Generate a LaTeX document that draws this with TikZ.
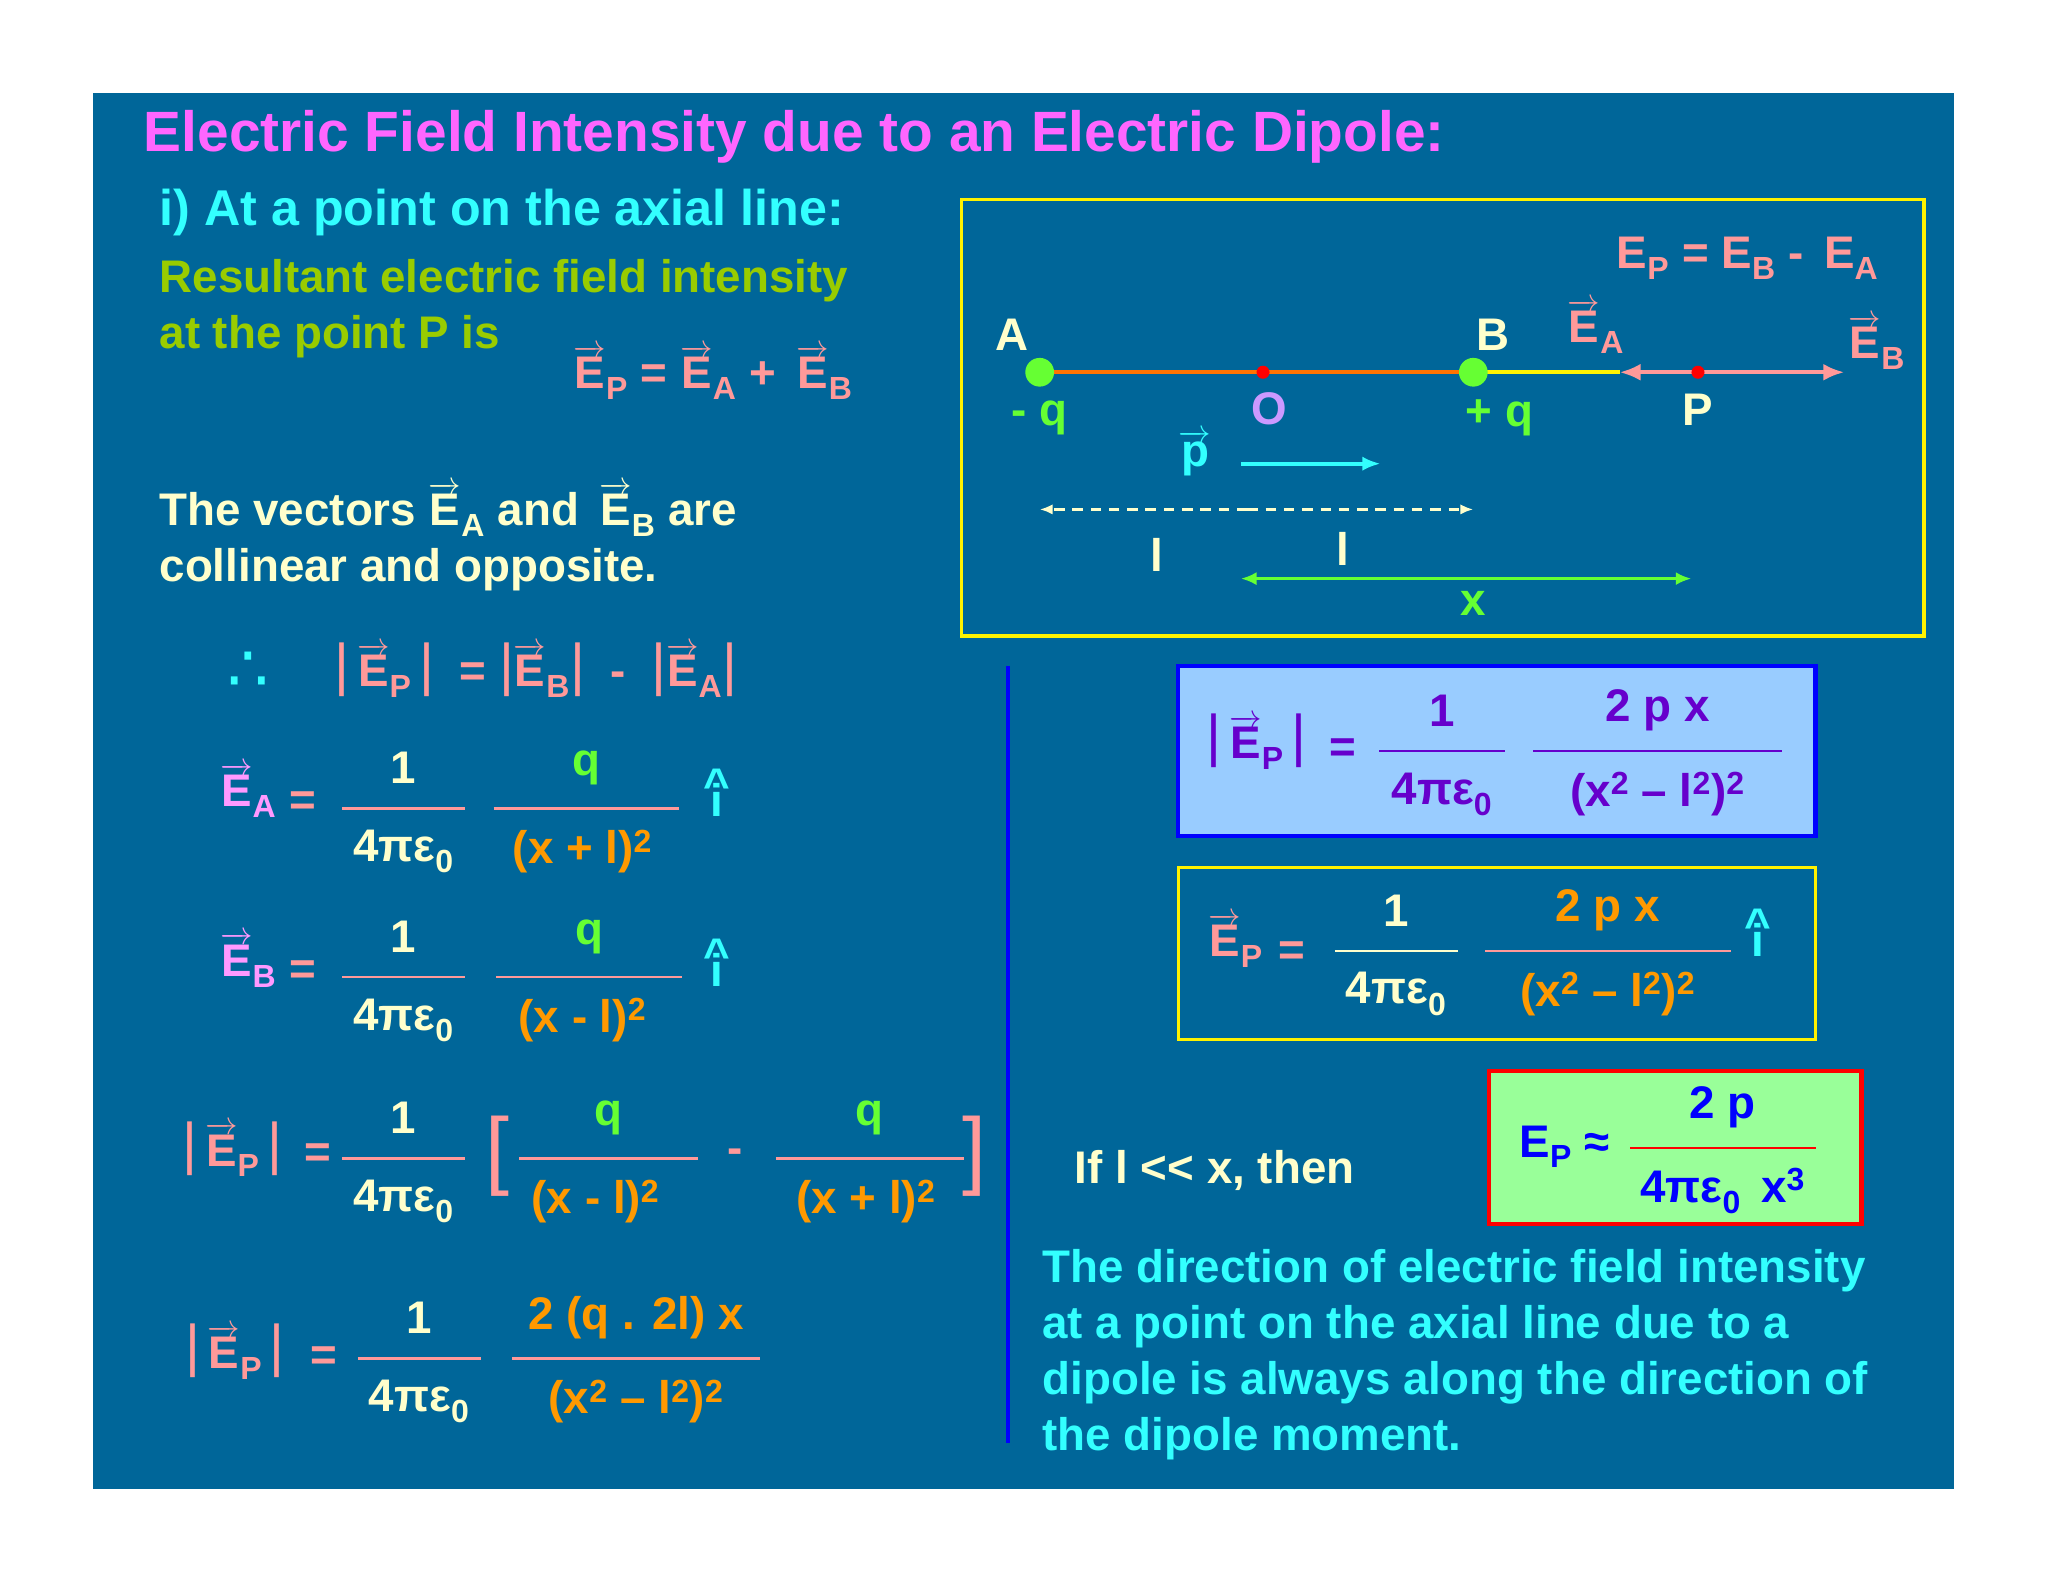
\documentclass[tikz,border=0pt]{standalone}
\usepackage{amsmath}
\usepackage{fontspec}
\setmainfont{Liberation Sans}
\newfontfamily\djv{DejaVu Sans}
\usetikzlibrary{arrows.meta}
\definecolor{bg}{RGB}{0,102,153}
\definecolor{sal}{HTML}{FF9999}
\definecolor{ly}{HTML}{FFFFCC}
\definecolor{grn}{HTML}{66FF33}
\definecolor{org}{HTML}{FF9900}
\definecolor{cyn}{HTML}{33FFFF}
\definecolor{ygr}{HTML}{99CC00}
\definecolor{mag}{HTML}{FF66FF}
\definecolor{vio}{HTML}{FF99FF}
\definecolor{pur}{HTML}{6600CC}
\definecolor{lblue}{HTML}{99CCFF}
\definecolor{lgrn}{HTML}{99FF99}
\definecolor{ovio}{HTML}{CC99FF}
\newcommand\va[1]{$\overrightarrow{\text{#1}}$}
\newcommand\ssb[1]{\textsubscript{#1}}
\newcommand\sq{\textsuperscript{2}}
\newcommand\pe{4πε\textsubscript{0}}
\newcommand\vb{{\mdseries\fontsize{44}{44}\selectfont\raisebox{2pt}{|}}}
\newcommand\ih{\shortstack{\^{}\\[-16pt]i}}
\newcommand\fr[7]{\draw[#6,line width=1.8pt] ({#1-#3/2},#2)--({#1+#3/2},#2);
 \node[#7] (n#1a) at (#1,#2-31) {#4}; \node[#7] (n#1b) at (#1,#2+33) {#5};}
\begin{document}
\begin{tikzpicture}[x=1pt,y=-1pt,every node/.style={font=\bfseries\fontsize{35}{40}\selectfont,inner sep=0pt}]
\useasboundingbox[fill=white] (0,0) rectangle (1568,1211);
\fill[bg] (71,71) rectangle (1496,1140);
\node[anchor=west,mag,font=\bfseries\fontsize{43.5}{46}\selectfont] (t) at (110,105) {Electric Field Intensity due to an Electric Dipole:};
\node[anchor=west,cyn,font=\bfseries\fontsize{38.5}{42}\selectfont] (h) at (122,163) {i) At a point on the axial line:};
\node[anchor=west,ygr] (r1) at (122,215) {Resultant electric field intensity};
\node[anchor=west,ygr] (r2) at (122,258) {at the point P is};
\node[sal] (e1) at (546,285) {\va{E}\ssb{P} = \va{E}\ssb{A} + \,\va{E}\ssb{B}};
\node[anchor=west,ly] (v1) at (122,390) {The vectors \va{E}\ssb{A} and \,\va{E}\ssb{B} are};
\node[anchor=west,ly] (v2) at (122,436) {collinear and opposite.};
\node[cyn,font=\djv\fontsize{50}{50}\selectfont] (th) at (190,514) {∴};
\node[sal,anchor=west] (e2) at (256,513) {\vb\,\va{E}\ssb{P}\,\vb\; = \vb\va{E}\ssb{B}\vb\; - \;\vb\va{E}\ssb{A}\vb};
% EA
\node[vio] (ea) at (190,605) {\va{E}\ssb{A}}; \node[sal] (eq1) at (232,615) {=};
\fr{309}{619}{94}{1}{\pe}{sal}{ly}
\fr{449}{619}{142}{q}{\phantom{x}}{sal}{grn}
\node[org] at (446,652) {(x + l)\sq};
\node[cyn] (ia) at (549,607) {\ih};
% EB
\node[vio] (eb) at (190,735) {\va{E}\ssb{B}}; \node[sal] (eq2) at (232,745) {=};
\fr{309}{748}{94}{1}{\pe}{sal}{ly}
\fr{451}{748}{142}{q}{\phantom{x}}{sal}{grn}
\node[org] at (446,781) {(x - l)\sq};
\node[cyn] (ib) at (549,737) {\ih};
% EP bracket
\node[sal] (ep3) at (178,880) {\vb\,\va{E}\ssb{P}\,\vb}; \node[sal] at (243,885) {=};
\fr{309}{887}{94}{1}{\pe}{sal}{ly}
\node[sal,font=\fontsize{66}{66}\selectfont] (lb) at (381,885) {[};
\fr{466}{887}{137}{q}{\phantom{x}}{sal}{grn}
\node[org] at (456,920) {(x - l)\sq};
\node[sal] (mi) at (563,885) {-};
\fr{666}{887}{144}{q}{\phantom{x}}{sal}{grn}
\node[org] at (663,920) {(x + l)\sq};
\node[sal,font=\fontsize{66}{66}\selectfont] (rb) at (746,885) {]};
% last
\node[sal] (ep4) at (180,1035) {\vb\,\va{E}\ssb{P}\,\vb}; \node[sal] at (248,1040) {=};
\fr{321}{1040}{94}{1}{\pe}{sal}{ly}
\fr{487}{1040}{190}{2 (q . 2l) x}{(x\sq{} – l\sq)\sq}{sal}{org}
% separator
\draw[blue,line width=3pt] (772,510) -- (772,1105);
% diagram
\draw[yellow,line width=2.5pt] (736,153) rectangle (1473,487);
\node[sal] (dep) at (1338,198) {E\ssb{P} = E\ssb{B} -\, E\ssb{A}};
\draw[orange!90!red,line width=3pt] (796,285) -- (1128,285);
\draw[yellow,line width=3pt] (1128,285) -- (1240,285);
\coordinate (Ea) at (1240,285); \coordinate (Pp) at (1300,285); \coordinate (Eb) at (1412,285);
\draw[sal,line width=3pt,-{Latex[length=16pt,width=13pt]}] (Pp) -- (Ea);
\draw[sal,line width=3pt,-{Latex[length=16pt,width=13pt]}] (Pp) -- (Eb);
\fill[grn] (796,285) circle (11);
\fill[grn] (1128,285) circle (11);
\node[ly] (A) at (775,256) {A}; \node[grn] (mq) at (796,320) {- q};
\node[ly] (B) at (1143,256) {B}; \node[grn] (pq) at (1148,320) {+ q};
\fill[red] (967,285) circle (5);
\node[ovio] (O) at (972,313) {O};
\fill[red] (Pp) circle (5);
\node[ly] (P) at (1300,314) {P};
\node[sal] (lea) at (1222,250) {\va{E}\ssb{A}};
\node[sal] (leb) at (1437,262) {\va{E}\ssb{B}};
\node[cyn] (pv) at (915,347) {\va{p}};
\draw[cyn,line width=3pt,-{Latex[length=14pt,width=11pt]}] (950,355) -- (1057,355);
\coordinate (mid) at (955,390);
\draw[ly,line width=2pt,dash pattern=on 8pt off 6pt,-{Latex[length=10pt,width=8pt]}] (mid) -- (796,390);
\draw[ly,line width=2pt,dash pattern=on 8pt off 6pt,-{Latex[length=10pt,width=8pt]}] (mid) -- (1128,390);
\node[ly] (l1) at (886,425) {l}; \node[ly] (l2) at (1028,420) {l};
\draw[grn,line width=2.5pt,{Latex[length=12pt,width=10pt]}-{Latex[length=12pt,width=10pt]}] (950,443) -- (1295,443);
\node[grn] (xl) at (1128,462) {x};
% blue box
\draw[blue,fill=lblue,line width=3.5pt] (902,510) rectangle (1390,640);
\node[pur] at (962,568) {\vb\,\va{E}\ssb{P}\,\vb}; \node[pur] at (1028,575) {=};
\fr{1104}{575}{96}{1}{\pe}{pur}{pur}
\fr{1269}{575}{190}{2 p x}{(x\sq{} – l\sq)\sq}{pur}{pur}
% yellow box
\draw[yellow,line width=2.5pt] (902,664) rectangle (1390,796);
\node[sal] at (946,720) {\va{E}\ssb{P}}; \node[sal] at (989,730) {=};
\fr{1069}{728}{94}{1}{\pe}{ly}{ly}
\fr{1231}{728}{188}{2 p x}{(x\sq{} – l\sq)\sq}{sal}{org}
\node[cyn] at (1346,714) {\ih};
\node[ly] (if) at (930,896) {If l <{}< x, then};
% green box
\draw[red,fill=lgrn,line width=3.5pt] (1140,820) rectangle (1425,937);
\node[blue] at (1198,878) {E\ssb{P} ≈};
\fr{1319}{879}{142}{2 p}{\pe{} \,x\textsuperscript{3}}{red}{blue}
\node[anchor=west,cyn,align=left,font=\bfseries\fontsize{35}{43}\selectfont] (par) at (798,1037) {The direction of electric field intensity\\at a point on the axial line due to a\\dipole is always along the direction of\\the dipole moment.};
\end{tikzpicture}
\end{document}
